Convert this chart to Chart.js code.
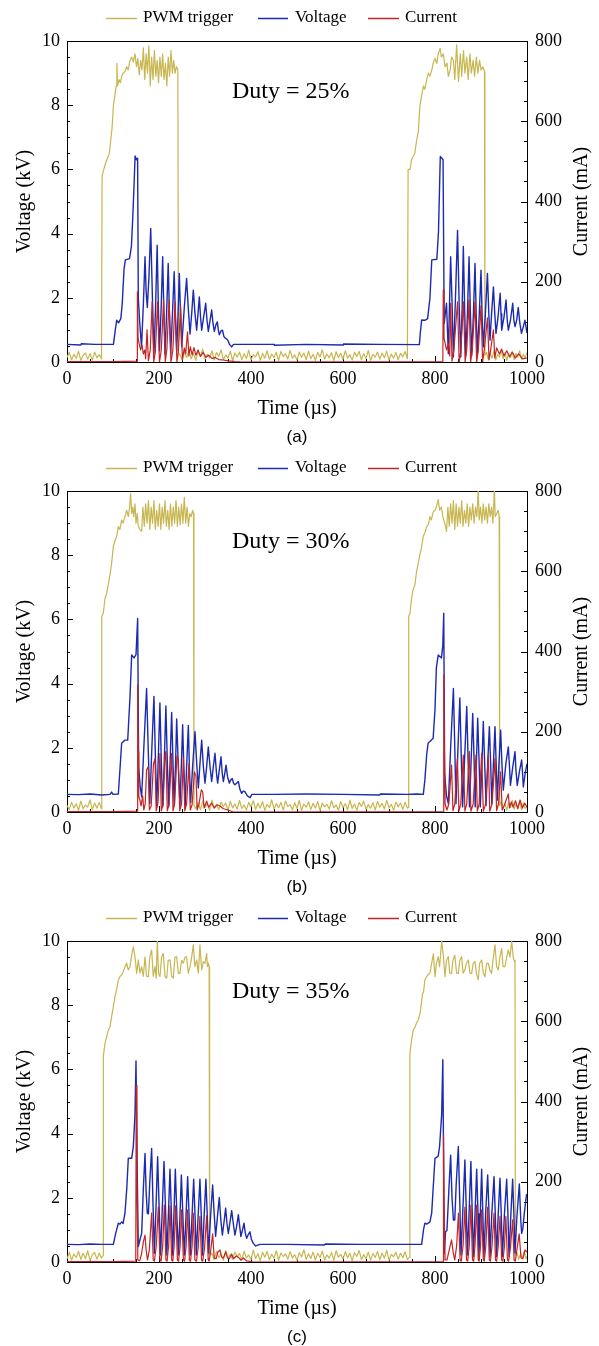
<!DOCTYPE html>
<html>
<head>
<meta charset="utf-8">
<script src="https://cdn.jsdelivr.net/npm/chart.js@4.4.0/dist/chart.umd.min.js"></script>
<style>
  body { margin: 0; background: #fff; }
  canvas { display: block; }
</style>
</head>
<body>
<canvas id="chartA" width="599" height="450"></canvas>
<canvas id="chartB" width="599" height="450"></canvas>
<canvas id="chartC" width="599" height="450"></canvas>
<script>
// time (us) , value pairs
// PWM trigger and voltage in kV, current in mA

const pwmA = [
[0,0.14],[5,0.3],[10,0.07],[15,0.24],[20,0.11],[25,0.33],[30,0.05],[35,0.21],[40,0.28],[45,0.09],[50,0.26],[55,0.06],[60,0.31],[65,0.13],[70,0.23],[75,0.1],
[76.3,5.8],[80,6.0],[84,6.2],[88,6.35],[92,6.5],[95,6.9],[98,7.3],[101,8.0],[104,8.3],[107,8.6],[108.5,9.3],[110,8.6],[113,8.8],[116,8.7],[119,8.9],[122,9.0],[126,9.05],[130,9.2],[133,9.1],[137,9.4],[140.6,9.5],[144,9.35],[147.8,9.6],[151,9.2],[154,9.45],[157,8.95],[160,9.4],[163,9.1],[166,9.79],[169,8.8],[172,9.6],[175,9.0],[178,9.85],[181,8.6],[184,9.5],[187,8.8],[190,9.7],[193,8.9],[196,9.4],[199,8.7],[202,9.5],[205,8.9],[208,9.6],[211,8.8],[214,9.3],[217,8.6],[220,9.5],[223,8.9],[226,9.7],[229,9.0],[232,9.4],[235,9.0],[238,9.2],[241,9.1],
[242.3,0.25],[245,0.25],[250,0.08],[255,0.31],[260,0.14],[265,0.36],[270,0.1],[275,0.27],[280,0.05],[285,0.33],[290,0.17],[295,0.4],[300,0.09],[305,0.24],[310,0.13],[315,0.35],[320,0.06],[325,0.29],[330,0.18],[335,0.38],[340,0.07],[345,0.22],[350,0.12],[355,0.34],[360,0.04],[365,0.28],[370,0.15],[375,0.31],[380,0.08],[385,0.26],[390,0.11],[395,0.37],[400,0.06],[405,0.23],[410,0.16],[415,0.32],[420,0.05],[425,0.27],[430,0.12],[435,0.35],[440,0.08],[445,0.25],[450,0.14],[455,0.3],[460,0.04],[465,0.33],[470,0.17],[475,0.26],[480,0.09],[485,0.36],[490,0.12],[495,0.22],[500,0.06],[505,0.31],[510,0.15],[515,0.28],[520,0.07],[525,0.34],[530,0.11],[535,0.24],[540,0.05],[545,0.3],[550,0.16],[555,0.38],[560,0.09],[565,0.25],[570,0.13],[575,0.29],[580,0.04],[585,0.32],[590,0.14],[595,0.27],[600,0.08],[605,0.35],[610,0.12],[615,0.23],[620,0.06],[625,0.3],[630,0.17],[635,0.33],[640,0.07],[645,0.26],[650,0.11],[655,0.36],[660,0.05],[665,0.24],[670,0.15],[675,0.31],[680,0.09],[685,0.28],[690,0.13],[695,0.34],[700,0.06],[705,0.25],[710,0.12],[715,0.3],[720,0.07],[725,0.27],[730,0.16],[735,0.33],[740,0.1],
[741.5,6.0],[746,6.0],[749,6.3],[756,6.5],[760,6.9],[764,7.2],[767,7.96],[771,8.3],[775,8.6],[778,8.5],[782,8.8],[785.5,9.0],[789,8.9],[793,9.1],[796,9.3],[800,9.46],[804,9.3],[807,9.6],[811,9.77],[814,9.5],[818,9.6],[822,9.2],[826,9.31],[829,8.9],[833,9.1],[836,9.5],[840,9.4],[843,8.8],[847,9.88],[851,8.74],[855,9.6],[858,8.9],[862,9.7],[865,9.0],[869,9.5],[872,8.8],[876,9.6],[879,9.0],[883,9.4],[886,8.9],[890,9.5],[893,9.0],[897,9.4],[900,9.1],[904,9.2],[907.5,9.05],
[908.5,0.2],[912,0.3],[916,0.08],[920,0.26],[924,0.12],[928,0.34],[932,0.06],[936,0.23],[940,0.15],[944,0.37],[948,0.1],[952,0.28],[956,0.05],[960,0.25],[964,0.13],[968,0.31],[972,0.07],[976,0.27],[980,0.16],[984,0.35],[988,0.09],[992,0.24],[996,0.12],[1000,0.3]
];

const voltA = [
[0,0.55],[30,0.53],[31,0.57],[60,0.55],[101,0.55],[105,1.0],[108,1.3],[112,1.22],[117,1.35],[120,1.8],[124,2.9],[127,3.18],[136,3.22],[140,3.6],[143,4.5],[146,5.6],[148,6.42],[151,6.3],[153.5,6.35],[155,2.0],[158,1.25],[162,0.47],[166,1.8],[169.6,3.28],[172,2.2],[174.6,1.7],[178,2.6],[182,4.16],[185.5,2.1],[189,0.26],[192.5,1.7],[196,3.64],[198.5,1.8],[201,0.35],[204.5,1.6],[208,3.28],[210.5,1.6],[213,0.26],[216.5,1.5],[220,3.07],[222.7,1.5],[225.4,0.26],[229,1.4],[233,2.81],[235.7,1.4],[238.4,0.35],[241.3,1.4],[244.2,2.76],[246.8,1.5],[249.3,0.47],[255,1.7],[260,2.6],[264,1.6],[267.4,0.87],[271,1.5],[274.6,2.24],[278.3,1.5],[281.9,0.99],[284.8,1.5],[287.7,2.03],[290.3,1.4],[292.8,0.99],[297,1.4],[301.5,1.83],[304.4,1.3],[307.2,0.95],[311,1.3],[314.5,1.62],[317.4,1.2],[320.3,0.95],[323.5,1.15],[326.8,1.25],[329,1.0],[331,0.85],[335,0.97],[338,0.99],[341,0.8],[343.5,0.75],[347,0.72],[350.7,0.65],[353,0.55],[355.8,0.51],[358,0.47],[362,0.55],[450,0.55],[451,0.52],[520,0.55],[600,0.53],[601,0.56],[680,0.55],[766,0.54],
[768,0.9],[771,1.31],[778,1.3],[784,1.35],[789,2.0],[793,3.18],[804,3.2],[807.6,4.07],[810,5.5],[811.5,6.4],[815,6.35],[817.5,6.3],[820,1.2],[825,1.83],[829,0.26],[834,3.28],[837,1.9],[840,0.16],[844.5,2.0],[849,4.1],[852.5,1.8],[856,0.16],[859,1.7],[861.6,3.6],[864.5,1.6],[867,0.2],[870.5,1.5],[874,3.28],[877,1.5],[879.7,0.2],[883.5,1.5],[887,3.07],[889.5,1.5],[892,0.25],[896,1.4],[900,2.86],[902.5,1.4],[905,0.47],[909.5,1.5],[914,2.76],[917,1.5],[919.6,0.68],[923,1.5],[927,2.34],[930,1.5],[932.6,0.89],[937,1.4],[941.7,2.14],[943.5,1.5],[945,0.99],[950,1.4],[954.5,1.93],[957,1.3],[959.4,0.99],[964,1.3],[969,1.83],[971.5,1.3],[974,1.1],[977.5,1.3],[981,1.7],[984.5,1.2],[988,0.89],[992,1.1],[995.6,1.3],[1000,0.9]
];

const curA = [
[0,1],[100,1],[152.5,2],[153,175],[154.5,60],[157,45],[160,30],[163,42],[166,20],[169,30],[171,8],[174,80],[177,3],[181,30],[185,150],[188.5,0],[192,25],[197,150],[201,0],[205,30],[210,155],[213.5,0],[217,30],[222,155],[226,0],[230,28],[235,150],[239,0],[242,25],[247,140],[251,5],[255,35],[258,20],[262,75],[265,15],[268,38],[272,18],[276,36],[280,17],[285,30],[290,14],[296,24],[302,12],[308,17],[315,9],[322,11],[330,6],[340,5],[350,3],[365,1],[380,0],
[817,1],[818,179],[819.5,60],[822,47],[825,30],[829,45],[832,15],[834,146],[837,2],[841,30],[849,150],[852.5,0],[856,25],[862,150],[865.5,0],[869,30],[874,155],[877.5,0],[881,30],[887,150],[890.5,0],[894,28],[900,140],[903.5,0],[907,30],[914,110],[917.5,5],[921,30],[927,80],[930,10],[934,35],[940,20],[945,32],[950,15],[956,28],[962,13],[968,25],[975,10],[982,20],[990,8],[1000,10]
];

const pwmB = [
[0,0.2],[5,0.08],[10,0.3],[15,0.12],[20,0.26],[25,0.05],[30,0.34],[35,0.1],[40,0.22],[45,0.15],[50,0.38],[55,0.07],[60,0.28],[65,0.12],[70,0.3],[74.8,0.1],
[75.6,6.1],[79,6.2],[82.6,6.65],[86,6.8],[89.9,7.1],[93.5,7.4],[97,7.75],[100.7,8.27],[104.3,8.45],[108,8.6],[111.6,8.89],[115,8.8],[118.8,9.1],[122,9.0],[126,9.2],[129.7,9.4],[133.3,9.2],[136,9.5],[138.4,9.92],[140.5,9.3],[142.8,9.5],[145,9.2],[147.8,9.6],[150,9.0],[152.9,9.3],[155,8.9],[158.7,8.8],[162.3,8.74],[165,9.5],[168,8.9],[171,9.6],[174,9.0],[177,9.7],[180,8.8],[183,9.5],[186,9.0],[189,9.7],[192,8.8],[195,9.4],[198,8.9],[201,9.6],[204,8.8],[207,9.5],[210,9.0],[213,9.7],[216,8.9],[219,9.4],[222,8.8],[225,9.6],[228,8.9],[231,9.5],[234,9.0],[237,9.7],[240,8.9],[243,9.5],[246,8.95],[249,9.6],[252,9.0],[255,9.8],[258,9.0],[261,9.5],[264,8.9],[267,9.3],[270,9.2],[273,9.4],[275,9.3],
[276,0.22],[280,0.1],[285,0.29],[290,0.07],[295,0.34],[300,0.15],[305,0.26],[310,0.05],[315,0.37],[320,0.12],[325,0.23],[330,0.08],[335,0.31],[340,0.17],[345,0.28],[350,0.04],[355,0.33],[360,0.13],[365,0.25],[370,0.09],[375,0.36],[380,0.11],[385,0.22],[390,0.06],[395,0.3],[400,0.16],[405,0.35],[410,0.08],[415,0.27],[420,0.12],[425,0.32],[430,0.05],[435,0.24],[440,0.14],[445,0.38],[450,0.09],[455,0.26],[460,0.13],[465,0.3],[470,0.06],[475,0.34],[480,0.17],[485,0.23],[490,0.07],[495,0.29],[500,0.11],[505,0.36],[510,0.05],[515,0.25],[520,0.15],[525,0.31],[530,0.08],[535,0.27],[540,0.12],[545,0.33],[550,0.04],[555,0.28],[560,0.16],[565,0.24],[570,0.09],[575,0.35],[580,0.13],[585,0.22],[590,0.06],[595,0.32],[600,0.14],[605,0.26],[610,0.07],[615,0.37],[620,0.11],[625,0.25],[630,0.05],[635,0.3],[640,0.17],[645,0.34],[650,0.08],[655,0.23],[660,0.12],[665,0.29],[670,0.06],[675,0.33],[680,0.15],[685,0.27],[690,0.09],[695,0.36],[700,0.13],[705,0.24],[710,0.05],[715,0.31],[720,0.16],[725,0.28],[730,0.08],[735,0.3],[740,0.12],[741.5,0.14],
[742.8,6.1],[745.7,6.2],[749,6.65],[752,6.9],[756.5,7.1],[760,7.5],[763.7,7.75],[767,8.0],[771,8.27],[774.6,8.6],[778,8.7],[782,8.89],[785.5,8.95],[789,9.2],[792,9.1],[796,9.35],[800,9.4],[803,9.5],[807,9.73],[810,9.4],[814,9.5],[817,9.2],[821,9.0],[825,8.74],[828,9.5],[831,8.9],[834,9.6],[837,9.0],[840,9.7],[843,8.8],[846,9.6],[849,8.9],[852,9.5],[855,9.0],[858,9.7],[861,8.9],[864,9.4],[867,9.0],[870,9.6],[873,8.9],[876,9.5],[879,9.1],[882,9.6],[885,9.0],[888,9.5],[891,9.2],[894,10.05],[896,9.1],[899,9.5],[902,9.0],[905,9.6],[908,9.1],[911,9.5],[914,9.0],[917,9.6],[920,9.2],[923,9.5],[926,9.0],[929,10.05],[931,9.2],[934,9.3],[937.7,9.4],[939.5,9.2],
[940.5,0.2],[944,0.32],[948,0.1],[952,0.27],[956,0.06],[960,0.3],[964,0.14],[968,0.36],[972,0.09],[976,0.24],[980,0.15],[984,0.33],[988,0.07],[992,0.28],[996,0.11],[1000,0.15]
];

const voltB = [
[0,0.55],[25,0.54],[50,0.56],[75,0.53],[93.5,0.55],[97,0.62],[100,0.55],[111.6,0.56],[115,1.3],[118.8,2.14],[126,2.24],[132,2.24],[137,3.6],[140.6,4.89],[145.7,4.8],[150,4.9],[153.6,6.03],[155.8,1.4],[159,0.8],[162.3,0.47],[167,2.0],[173,3.85],[176.5,2.0],[180,0.26],[184.5,2.0],[189,3.6],[192,1.8],[195,0.16],[198.5,1.7],[202,3.4],[205,1.6],[208,0.16],[211.5,1.6],[215,3.3],[218,1.6],[221,0.16],[224,1.5],[227.5,3.1],[230.5,1.5],[233,0.2],[236,1.5],[238.4,2.9],[242,1.4],[245.6,0.2],[248.5,1.4],[251.4,2.72],[254,1.4],[257,0.2],[260,1.4],[263.8,2.7],[266,1.4],[268.8,0.3],[273,1.4],[278.3,2.5],[282,1.5],[285.5,0.75],[289,1.5],[292.8,2.24],[296.5,1.4],[300,0.9],[303.5,1.4],[307.2,2.03],[311,1.4],[314.5,0.95],[318,1.4],[321.7,1.83],[325,1.2],[327.5,0.9],[331,1.3],[334.8,1.72],[337.5,1.2],[339.9,0.95],[343,1.2],[345.7,1.46],[349,1.1],[352.9,0.9],[356,1.0],[359.4,1.04],[362,0.9],[365,0.85],[369,0.9],[372.5,0.95],[376,0.7],[379.7,0.58],[383,0.65],[387,0.63],[392,0.5],[398,0.45],[402,0.55],[450,0.55],[520,0.56],[600,0.55],[680,0.53],[681,0.56],[740,0.55],[760,0.56],[774.6,0.55],
[778,1.0],[782,1.8],[785,2.14],[789,2.2],[796,2.3],[800,3.2],[803,4.5],[807,4.89],[814,4.8],[817,5.2],[819,6.19],[821,1.2],[825,0.5],[829,0.26],[834,2.0],[840,3.85],[843,2.0],[845.6,0.26],[850,2.0],[854,3.55],[857,1.8],[860,0.16],[864.5,1.7],[869,3.29],[872,1.6],[875,0.16],[878.5,1.6],[882,3.07],[885,1.6],[887.4,0.16],[890,1.5],[892.8,2.92],[896,1.5],[898.5,0.16],[902,1.5],[905,2.82],[908,1.5],[911,0.2],[914.5,1.5],[918.2,2.66],[921,1.5],[923.5,0.26],[927,1.5],[930.4,2.66],[933,1.5],[935.5,0.37],[939,1.5],[942.7,2.55],[945.5,1.5],[948.5,0.68],[954,1.5],[959.4,2.03],[962,1.4],[964,0.83],[969,1.4],[973.9,1.88],[976,1.3],[978.8,0.83],[984,1.3],[988.4,1.62],[990,1.3],[992,0.78],[996,1.2],[1000,1.5]
];

const curB = [
[0,1],[100,1],[153,2],[153.6,316],[155,150],[156,40],[158.7,28],[161,15],[164.5,40],[167,5],[170,20],[173,105],[176.8,113],[179,5],[183,15],[188,120],[191.3,133],[194,3],[198,25],[202,146],[205,3],[209,20],[213,140],[215,151],[218,3],[222,20],[227.5,146],[230.5,3],[234,20],[239,140],[242,130],[245,3],[249,20],[253,135],[256,3],[260,20],[265,120],[268,5],[272,18],[277,100],[280.4,90],[283,5],[287,20],[292,55],[295,50],[298,10],[303.6,27],[308,12],[314.5,22],[320,10],[326,18],[332.6,15],[340,8],[350,5],[361.6,0],
[818,1],[819,342],[820.5,150],[822,20],[826,5],[830,20],[836,117],[839,3],[843,20],[848.6,133],[852,2],[856,20],[861.6,142],[865,2],[869,20],[874.6,151],[878,2],[883,20],[889,142],[892,2],[896,20],[901.4,146],[905,2],[910,20],[915.9,142],[919,2],[924,20],[930.4,133],[934,3],[938,20],[942.7,100],[946,5],[950,15],[959.4,45],[962,10],[966,25],[970,12],[975,28],[980,8],[985,30],[990,10],[995,22],[1000,12]
];

const pwmC = [
[0,0.1],[5,0.3],[10,0.06],[15,0.25],[20,0.14],[25,0.33],[30,0.08],[35,0.27],[40,0.1],[45,0.35],[50,0.05],[55,0.22],[60,0.3],[65,0.09],[70,0.28],[75,0.12],[78.3,0.2],
[79,6.41],[82.6,6.81],[86,7.0],[89.9,7.23],[93.5,7.33],[97,7.64],[100.7,7.96],[104.3,8.27],[108,8.5],[111.6,8.79],[115.2,8.89],[119,8.95],[122.5,9.05],[126,9.2],[129.7,9.31],[133,9.1],[137,9.2],[140.6,9.56],[144.2,9.82],[147.8,9.51],[151.4,8.99],[155,9.41],[158.7,9.0],[162.3,9.2],[166,8.9],[169.6,9.51],[173,8.9],[176.8,8.89],[180,9.5],[184,9.72],[187.5,8.9],[191.3,9.2],[194,8.84],[196.4,10.05],[199,9.0],[202,8.89],[205.7,9.5],[209.4,9.61],[213,8.9],[216.7,8.84],[220,9.4],[224,9.41],[227.5,8.9],[231,8.84],[234.7,9.5],[238.4,9.51],[242,9.0],[245.6,8.99],[249,9.4],[252.9,9.31],[256.5,9.5],[260,9.51],[263.7,9.0],[267.4,9.2],[271,9.5],[274.6,9.88],[278,9.2],[281.9,9.41],[285.5,9.0],[289,9.88],[292.7,9.1],[296.4,9.36],[300,9.3],[303.6,9.61],[305.4,9.2],[307.2,9.31],[309,9.2],
[310,0.2],[315,0.28],[320,0.07],[325,0.33],[330,0.14],[335,0.25],[340,0.05],[345,0.36],[350,0.12],[355,0.23],[360,0.09],[365,0.31],[370,0.16],[375,0.27],[380,0.06],[385,0.34],[390,0.13],[395,0.22],[400,0.08],[405,0.37],[410,0.11],[415,0.26],[420,0.04],[425,0.3],[430,0.15],[435,0.33],[440,0.07],[445,0.24],[450,0.12],[455,0.35],[460,0.06],[465,0.28],[470,0.17],[475,0.25],[480,0.09],[485,0.32],[490,0.13],[495,0.23],[500,0.05],[505,0.29],[510,0.16],[515,0.38],[520,0.08],[525,0.26],[530,0.11],[535,0.31],[540,0.06],[545,0.27],[550,0.14],[555,0.34],[560,0.07],[565,0.22],[570,0.12],[575,0.3],[580,0.05],[585,0.35],[590,0.15],[595,0.24],[600,0.09],[605,0.32],[610,0.13],[615,0.27],[620,0.04],[625,0.29],[630,0.17],[635,0.36],[640,0.08],[645,0.23],[650,0.11],[655,0.31],[660,0.06],[665,0.26],[670,0.14],[675,0.33],[680,0.07],[685,0.28],[690,0.12],[695,0.37],[700,0.05],[705,0.24],[710,0.16],[715,0.3],[720,0.09],[725,0.27],[730,0.13],[735,0.32],[740,0.08],[744.5,0.15],
[745.5,6.5],[749,6.9],[752.8,7.23],[756,7.3],[760,7.45],[763.7,7.54],[767.4,7.75],[770,8.0],[773,8.37],[775,8.4],[778,8.79],[782,8.9],[785,8.95],[789,9.0],[792.8,9.31],[796.4,9.6],[800,8.89],[803,9.3],[807,9.51],[810,9.2],[814.5,10.0],[818,9.56],[821.7,8.89],[825,9.4],[829,9.51],[832,9.0],[836,8.99],[839,9.4],[843,9.56],[847,9.0],[850.7,8.99],[854,9.4],[858,9.51],[861,9.0],[865,9.1],[868,9.3],[872.5,9.41],[876,9.0],[879.7,8.99],[883,9.3],[887,9.36],[890,9.0],[894,8.79],[897,9.3],[901.4,9.41],[905,9.0],[908.7,8.89],[912,9.3],[916,9.3],[919,9.1],[923,8.99],[926,9.4],[930.4,9.88],[934,9.2],[937.7,9.1],[941,9.5],[945,9.77],[948,9.2],[952,9.2],[956,9.5],[959.4,9.72],[963,9.5],[966.7,10.0],[970,9.5],[972,9.4],[973.9,9.3],
[974.8,0.2],[978,0.3],[982,0.08],[986,0.26],[990,0.12],[994,0.33],[998,0.1],[1000,0.18]
];

const voltC = [
[0,0.55],[25,0.54],[50,0.56],[75,0.55],[100.7,0.55],[106,0.9],[111.6,1.21],[115,1.18],[119,1.25],[122,1.2],[126,1.52],[130,2.3],[133.3,3.23],[140.6,3.23],[144.2,3.6],[147.8,4.6],[150,6.26],[152.5,3.0],[155,0.48],[158.7,0.7],[162.3,0.89],[166,2.3],[169.6,3.38],[172,2.2],[174.6,1.52],[177,1.5],[180,2.5],[184,3.54],[187,1.8],[189.9,0.27],[193.5,1.7],[197,3.28],[200.5,1.6],[203.5,0.22],[207,1.6],[210.9,3.13],[214.5,1.5],[217,0.22],[220.5,1.5],[223.9,2.89],[227,1.5],[229.6,0.22],[232.5,1.5],[235.5,2.89],[239,1.4],[242.3,0.22],[245.5,1.4],[248.6,2.71],[252,1.4],[255,0.22],[258.6,1.4],[262.3,2.66],[265.5,1.4],[268,0.22],[271.7,1.4],[275.4,2.58],[278.5,1.4],[281,0.22],[285,1.4],[289,2.58],[292,1.4],[294.8,0.22],[298,1.4],[302,2.58],[305,1.4],[307.8,0.27],[312,1.4],[316.6,2.4],[320,1.5],[323,0.8],[327,1.4],[331,2.01],[334.5,1.3],[337.7,0.84],[341,1.2],[344.9,1.68],[347.8,1.2],[350.7,0.89],[354,1.2],[358,1.6],[361.5,1.2],[365,0.84],[368.7,1.1],[372.5,1.47],[375.5,1.1],[378,0.79],[381.5,1.0],[384.8,1.21],[387.6,0.9],[390.6,0.74],[394,0.85],[397.8,0.94],[401,0.7],[405,0.58],[410,0.5],[419.6,0.55],[480,0.55],[560,0.53],[561,0.56],[640,0.55],[720,0.55],[771,0.55],
[775,1.0],[778,1.21],[782,1.18],[789,1.25],[792.8,1.52],[796,2.3],[800,3.23],[807,3.3],[810,3.6],[814.5,4.6],[817,6.3],[818.5,3.5],[820,0.27],[823,0.94],[826,0.98],[830,2.2],[834,3.33],[837,2.0],[840,1.31],[843,1.31],[846,2.4],[850.7,3.6],[854,1.8],[856.5,0.22],[860.5,1.6],[865,3.18],[868,1.6],[870.5,0.22],[874,1.5],[878,3.13],[881,1.5],[883.5,0.17],[887,1.5],[890.6,2.89],[893.5,1.5],[895.5,0.17],[898.5,1.5],[901.4,2.89],[904,1.5],[906.4,0.17],[910,1.5],[914.5,2.71],[917.5,1.5],[919.6,0.17],[923.5,1.5],[928.3,2.66],[931,1.5],[933.9,0.17],[937.5,1.5],[941.3,2.61],[944,1.5],[946.6,0.17],[951,1.5],[955.8,2.58],[958.5,1.5],[961,0.17],[965,1.5],[968.8,2.58],[971.5,1.5],[973.9,0.27],[978,1.4],[983.3,2.43],[986.5,1.3],[988.4,0.89],[991,1.04],[994,1.5],[999,2.1],[1000,2.0]
];

const curC = [
[0,1],[100,1],[149.5,2],[150.5,441],[152,200],[154,5],[158,3],[162,20],[166,50],[169.6,67],[172,30],[175,5],[179,30],[184,122],[187.5,5],[190,2],[194,40],[198.6,137],[202,5],[204.5,2],[208,40],[211.6,142],[215,5],[217.5,2],[221,40],[224,140],[227.5,5],[230,2],[233,40],[236.2,140],[240,5],[242.5,2],[246,40],[249.3,130],[253,5],[255.5,2],[259,40],[262.3,130],[266,5],[268.5,2],[272,40],[274.6,122],[278,5],[281.5,2],[285,35],[289,114],[292.5,5],[295,2],[299,35],[303.6,115],[307,5],[309,2],[312,25],[316.6,70],[320,10],[324,8],[328,25],[332.6,30],[336,12],[340,10],[345,25],[349,10],[353,8],[358,20],[362,8],[368,15],[372.5,12],[378,5],[383.3,10],[390,3],[405,0],
[818,1],[818.5,317],[820,120],[822,5],[826,5],[830,25],[836,55],[840,20],[843,5],[847,40],[851,122],[854.5,5],[857,2],[861,40],[865,137],[868.5,5],[871,2],[874.5,40],[878,142],[881.5,5],[884,2],[887,40],[890.6,142],[894,5],[896,2],[899,40],[901.4,130],[905,5],[907,2],[910.5,40],[914.5,137],[918,5],[920.5,2],[924,40],[928.3,122],[931.5,5],[934,2],[937.5,40],[941.3,114],[945,5],[947.5,2],[951,40],[954,114],[957.5,5],[960,2],[964,35],[968.8,105],[972,5],[974.5,2],[978,30],[983,70],[987,10],[991,8],[995.7,30],[1000,25]
];

const seriesNames = ['PWM trigger', 'Voltage', 'Current'];
const seriesColors = ['rgb(200,182,80)', 'rgb(28,42,178)', 'rgb(196,36,36)'];
const seriesWidths = [1.2, 1.4, 1.2];
const dutyLabels = ['Duty = 25%', 'Duty = 30%', 'Duty = 35%'];
const panelTags = ['(a)', '(b)', '(c)'];
const xTicks = [0, 200, 400, 600, 800, 1000];

const serif = '"Liberation Serif", "Times New Roman", serif';

const panelDecor = {
  id: 'panelDecor',
  beforeDatasetsDraw(chart) {
    const ctx = chart.ctx, a = chart.chartArea, s = chart.scales;
    ctx.save();
    ctx.strokeStyle = '#000';
    ctx.lineWidth = 1;
    ctx.beginPath();
    ctx.moveTo(a.left, a.top + 0.5);
    ctx.lineTo(a.right, a.top + 0.5);
    // inward ticks
    for (let t = 0; t <= 1000; t += 50) {
      const px = Math.round(s.x.getPixelForValue(t)) + 0.5;
      ctx.moveTo(px, a.bottom);
      ctx.lineTo(px, a.bottom - (t % 200 ? 3 : 6));
    }
    for (let v = 0; v <= 10; v += 0.5) {
      const py = Math.round(s.y.getPixelForValue(v)) + 0.5;
      ctx.moveTo(a.left, py);
      ctx.lineTo(a.left + (v % 2 ? 3 : 6), py);
    }
    for (let m = 0; m <= 800; m += 50) {
      const py = Math.round(s.y1.getPixelForValue(m)) + 0.5;
      ctx.moveTo(a.right, py);
      ctx.lineTo(a.right - (m % 200 ? 3 : 6), py);
    }
    ctx.stroke();
    ctx.restore();
  },
  afterDraw(chart, args, opts) {
    const ctx = chart.ctx, a = chart.chartArea;
    ctx.save();
    // legend
    const spots = [[106, 137, 143], [258, 288, 295], [368, 399, 405]];
    chart.data.datasets.forEach((ds, i) => {
      const p = spots[i];
      ctx.strokeStyle = ds.borderColor;
      ctx.lineWidth = 1.5;
      ctx.beginPath();
      ctx.moveTo(p[0], 18.5);
      ctx.lineTo(p[1], 18.5);
      ctx.stroke();
      ctx.fillStyle = '#000';
      ctx.font = '17px ' + serif;
      ctx.textAlign = 'left';
      ctx.textBaseline = 'middle';
      ctx.fillText(ds.label, p[2], 18);
    });
    // duty annotation
    ctx.font = '24px ' + serif;
    ctx.textBaseline = 'alphabetic';
    ctx.fillText(opts.duty, 232, 98);
    // right axis title, reading bottom to top
    ctx.save();
    ctx.translate(582, (a.top + a.bottom) / 2);
    ctx.rotate(-Math.PI / 2);
    ctx.textAlign = 'center';
    ctx.textBaseline = 'middle';
    ctx.font = '20px ' + serif;
    ctx.fillText('Current (mA)', 0, 0);
    ctx.restore();
    // panel tag
    ctx.font = '17px "Liberation Sans", Arial, sans-serif';
    ctx.textAlign = 'center';
    ctx.textBaseline = 'middle';
    ctx.fillText(opts.tag, (a.left + a.right) / 2, 437);
    ctx.restore();
  }
};

function toXY(arr) {
  return arr.map(p => ({ x: p[0], y: p[1] }));
}

function makeChart(id, pwm, volt, cur, k) {
  const ctx = document.getElementById(id).getContext('2d');
  const tickFont = { family: serif, size: 18 };
  const titleFont = { family: serif, size: 20 };
  const plain = v => String(v);
  return new Chart(ctx, {
    type: 'line',
    data: {
      datasets: [pwm, volt, cur].map((d, i) => ({
        label: seriesNames[i],
        data: toXY(d),
        borderColor: seriesColors[i],
        borderWidth: seriesWidths[i],
        yAxisID: i === 2 ? 'y1' : 'y',
        order: 3 - i
      }))
    },
    options: {
      responsive: false,
      animation: false,
      devicePixelRatio: 1,
      layout: { padding: { top: 41, left: 0, right: 0, bottom: 0 } },
      elements: {
        point: { radius: 0 },
        line: { tension: 0, borderJoinStyle: 'round', fill: false }
      },
      plugins: {
        legend: { display: false },
        tooltip: { enabled: false },
        panelDecor: { duty: dutyLabels[k], tag: panelTags[k] }
      },
      scales: {
        x: {
          type: 'linear', min: 0, max: 1000,
          afterBuildTicks(s) { s.ticks = xTicks.map(v => ({ value: v })); },
          ticks: { font: tickFont, color: '#000', padding: 6, maxRotation: 0, callback: plain },
          grid: { display: false, drawTicks: false },
          border: { display: true, color: '#000', width: 1 },
          title: { display: true, text: 'Time (µs)', font: titleFont, color: '#000', padding: { top: 0, bottom: 29 } },
          afterFit(s) { s.height = 88; }
        },
        y: {
          position: 'left', min: 0, max: 10,
          ticks: { stepSize: 2, font: tickFont, color: '#000', padding: 7, callback: plain },
          grid: { display: false, drawTicks: false },
          border: { display: true, color: '#000', width: 1 },
          title: { display: true, text: 'Voltage (kV)', font: titleFont, color: '#000', padding: { top: 13, bottom: 0 } },
          afterFit(s) { s.width = 67; }
        },
        y1: {
          position: 'right', min: 0, max: 800,
          ticks: { stepSize: 200, font: tickFont, color: '#000', padding: 8, callback: plain },
          grid: { display: false, drawTicks: false },
          border: { display: true, color: '#000', width: 1 },
          afterFit(s) { s.width = 72; }
        }
      }
    },
    plugins: [panelDecor]
  });
}

makeChart('chartA', pwmA, voltA, curA, 0);
makeChart('chartB', pwmB, voltB, curB, 1);
makeChart('chartC', pwmC, voltC, curC, 2);
</script>
</body>
</html>
